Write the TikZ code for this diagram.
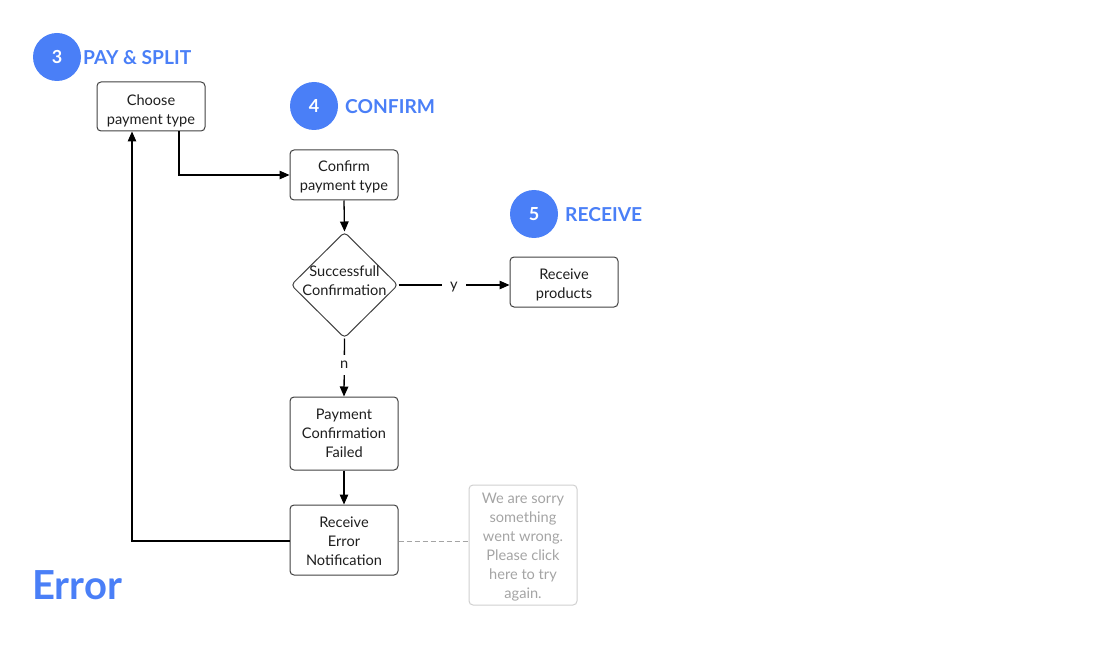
\documentclass[tikz,border=0pt]{standalone}
\usepackage{fontspec}
\setmainfont{Lato}
\usetikzlibrary{shapes.geometric,arrows.meta}
\definecolor{accent}{HTML}{4A7FF7}
\definecolor{ink}{HTML}{1E1E1E}
\definecolor{notegrey}{HTML}{A4A4A4}
\definecolor{noteline}{HTML}{D0D0D0}
\newcommand\fh[1]{\rule{0pt}{#1pt}}
\newcommand\fd[1]{\rule[-#1pt]{0pt}{0pt}}
\tikzset{
  x=1pt,y=-1pt,
  box/.style={draw=ink!85, line width=1pt, rounded corners=4pt, minimum width=108pt, inner ysep=0pt, align=center, text=ink, font=\fontsize{14.6}{19}\selectfont},
  decision/.style={draw=ink!85, line width=1pt, diamond, rounded corners=4pt, minimum width=107pt, minimum height=106pt, inner sep=-5pt, aspect=1, align=center, text=ink, font=\fontsize{14.6}{19}\selectfont},
  note/.style={draw=noteline, line width=1pt, rounded corners=4pt, minimum width=108pt, minimum height=120pt, inner ysep=0pt, align=center, text=notegrey, font=\fontsize{14.6}{19}\selectfont},
  badge/.style={circle, fill=accent, minimum size=48pt, inner sep=0pt, text=white, font=\fontsize{18}{18}\selectfont\bfseries},
  stagetitle/.style={anchor=west, text=accent, font=\fontsize{19.2}{20}\selectfont\bfseries, inner sep=0pt},
  flow/.style={line width=1.3pt, draw=black, -{Triangle[length=10pt,width=8.5pt]}},
  lbl/.style={fill=white, text=ink, font=\fontsize{14.6}{14.6}\selectfont}
}
\begin{document}
\begin{tikzpicture}
\useasboundingbox (0,0) rectangle (1100,655);
% stage headers
\node[badge] (b3) at (57,57) {3};
\node[stagetitle] (t3) at (83,57.5) {PAY \& SPLIT};
\node[badge] (b4) at (314,106) {4};
\node[stagetitle] (t4) at (345,106.5) {CONFIRM};
\node[badge] (b5) at (534,214) {5};
\node[stagetitle] (t5) at (565,214.5) {RECEIVE};
\node[anchor=west, text=accent, font=\fontsize{40}{40}\selectfont\bfseries, inner sep=0pt] (err) at (32,585) {Error};
% nodes
\node[box, minimum height=49pt] (choose) at (151,106.5) {\fh{21.5}Choose\\payment type\fd{5}};
\node[box, minimum height=50pt] (confirm) at (344,175) {\fh{17.5}Confirm\\payment type\fd{5}};
\node[decision] (dec) at (344.5,285) {Successfull\\Confirmation\fd{8}};
\node[box, minimum height=50pt] (recv) at (564,282) {\fh{18.5}Receive\\products\fd{5}};
\node[box, minimum height=73pt] (fail) at (344,433.5) {\fh{15.5}Payment\\Confirmation\\Failed\fd{5}};
\node[box, minimum height=70pt] (errn) at (344,540) {\fh{18.5}Receive\\Error\\Notification\fd{5}};
\node[note] (msg) at (523,545) {\fh{16.5}We are sorry\\something\\went wrong.\\Please click\\here to try\\again.\fd{5}};
% connectors
\coordinate (c1) at (179,175);
\draw[flow] (choose.south -| c1) -- (c1) -- (confirm.west);
\draw[flow] (confirm.south) -- (dec.north);
\draw[flow] (dec.east) -- node[lbl, inner xsep=8pt, yshift=-2.5pt] {y} (dec.east -| recv.west);
\draw[flow] (dec.south) -- node[lbl, inner ysep=6pt, pos=0.42, yshift=-2pt] {n} (fail.north);
\draw[flow] (fail.south) -- (errn.north);
\coordinate (c2) at (132,541);
\draw[flow] (errn.west |- c2) -- (c2) -- (c2 |- choose.south);
\draw[line width=1pt, draw=notegrey, dash pattern=on 5pt off 3pt] (errn.east |- c2) -- (msg.west |- c2);
\end{tikzpicture}
\end{document}
